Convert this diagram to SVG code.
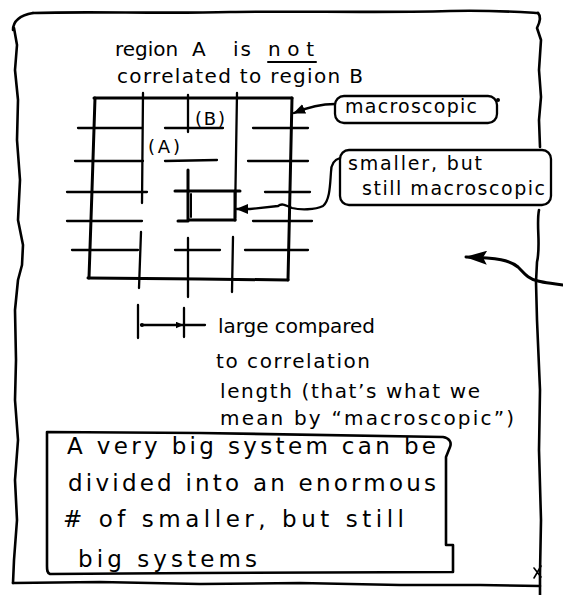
<svg xmlns="http://www.w3.org/2000/svg" width="563" height="595" viewBox="0 0 563 595">
  <style>
    .ink { fill: none; stroke: #000; stroke-linecap: round; stroke-linejoin: round; }
    .frame { stroke-width: 2.6; }
    .heavy { stroke-width: 3; }
    .thin { stroke-width: 2.3; }
    .hand { font-family: "DejaVu Sans", "Liberation Sans", sans-serif; fill: #000; }
    .t19 { font-size: 19px; }
    .t20 { font-size: 20px; }
    .t18 { font-size: 18px; }
    .t23 { font-size: 23px; }
  </style>
  <defs>
    <marker id="head" viewBox="0 0 12 10" refX="11" refY="5" markerWidth="12" markerHeight="10" orient="auto" markerUnits="userSpaceOnUse">
      <path d="M0,0 L12,5 L0,10 Z" fill="#000"/>
    </marker>
    <marker id="head-small" viewBox="0 0 8 7" refX="7.5" refY="3.5" markerWidth="8" markerHeight="7" orient="auto" markerUnits="userSpaceOnUse">
      <path d="M0,0 L8,3.5 L0,7 Z" fill="#000"/>
    </marker>
    <marker id="head-big" viewBox="0 0 22 14" refX="21" refY="7" markerWidth="22" markerHeight="14" orient="auto" markerUnits="userSpaceOnUse">
      <path d="M0,0 L22,7 L0,14 L4,7 Z" fill="#000"/>
    </marker>
  </defs>

  <rect width="563" height="595" fill="#fff"/>

  <!-- hand-drawn page frame -->
  <g id="frame" class="ink frame">
    <path d="M33,13 C 90,11 160,14 230,12 C 300,11 380,13 450,11 C 490,10 520,12 538,13"/>
    <path d="M33,13 C 22,15 13,20 13,30"/>
    <path d="M14,28 L17,45 L15,70 L18,100 L17,140 L20,180 L18,220 L23,245 L22,265 L18,280 L15,310 L16,360 L15,400 L18,440 L15,480 L17,520 L14,560 L13,583"/>
    <path d="M13,583 L100,582 L200,584 L300,583 L400,585 L480,585 L540,586"/>
    <path d="M538,13 C 541,16 540,22 537,28 L541,40 L539,70 L541,97 L539,120 L540,147"/>
    <path d="M539,210 C 536,225 541,245 537,262 L536,282 L537,320 L540,390 L539,450 L541,520 L540,573 L540,595"/>
    <path stroke-width="1.6" d="M534,568 L541,577 M541,566 L534,578"/>
  </g>

  <!-- heading -->
  <g id="heading" class="hand t20">
    <text y="56"><tspan x="115">region</tspan><tspan x="192">A</tspan><tspan x="233" textLength="18" lengthAdjust="spacing">is</tspan><tspan x="268" textLength="46" lengthAdjust="spacing">not</tspan></text>
    <path class="ink" stroke-width="2" d="M268,62 L316,62"/>
    <text x="117" y="83" textLength="246" lengthAdjust="spacing">correlated to region B</text>
  </g>

  <!-- large system divided into sub-regions -->
  <g id="grid">
    <g class="ink heavy">
      <path d="M94,98 L292,98"/>
      <path d="M292,98 L290,190 L288,280"/>
      <path d="M88,278 L200,279 L288,280"/>
      <path d="M95,98 L92,190 L89,278"/>
    </g>
    <g class="ink thin">
      <!-- column lines -->
      <path d="M143,93 L142,203"/>
      <path d="M141,232 L139,288"/>
      <path d="M188,95 L188,132"/>
      <path d="M188,238 L188,297"/>
      <path d="M237,93 L235,218"/>
      <path d="M233,237 L232,292"/>
      <!-- row lines -->
      <path d="M78,128 L142,128 M165,128 L223,128 M253,128 L308,128"/>
      <path d="M75,161 L143,161 M165,161 L217,160 M248,161 L308,161"/>
      <path d="M67,192 L147,192 M265,192 L310,192"/>
      <path d="M67,221 L142,221 M253,221 L312,221"/>
      <path d="M72,250 L138,250 M175,250 L220,250 M245,250 L308,250"/>
    </g>
    <!-- highlighted sub-system -->
    <g id="subsystem" class="ink heavy">
      <path d="M175,191 L240,191"/>
      <path d="M188,170 L188,220 L235,220"/>
      <path d="M178,221 L188,221"/>
      <path d="M191,194 L191,217" stroke-width="2"/>
      <path d="M235,191 L235,220"/>
    </g>
    <g class="hand t18">
      <text x="195" y="125" textLength="30" lengthAdjust="spacing">(B)</text>
      <text x="148" y="153" textLength="32" lengthAdjust="spacing">(A)</text>
    </g>
  </g>

  <!-- label: macroscopic -->
  <g id="label-macroscopic">
    <rect class="ink" stroke-width="2.3" x="335" y="96" width="162" height="27" rx="9"/>
    <circle cx="498" cy="100" r="2" fill="#000"/>
    <text class="hand t19" x="345" y="113" textLength="132" lengthAdjust="spacing">macroscopic</text>
  </g>

  <!-- label: smaller, but still macroscopic -->
  <g id="label-smaller">
    <rect class="ink" stroke-width="2.3" x="340" y="150" width="211" height="55" rx="9"/>
    <text class="hand t19" x="348" y="170" textLength="134" lengthAdjust="spacing">smaller, but</text>
    <text class="hand t19" x="362" y="195" textLength="183" lengthAdjust="spacing">still macroscopic</text>
  </g>

  <!-- correlation length note -->
  <g id="note-length" class="hand t20">
    <text x="218" y="333" textLength="157" lengthAdjust="spacing">large compared</text>
    <text x="216" y="368" textLength="154" lengthAdjust="spacing">to correlation</text>
    <text x="220" y="398" textLength="260" lengthAdjust="spacing">length (that’s what we</text>
    <text x="220" y="425" textLength="294" lengthAdjust="spacing">mean by “macroscopic”)</text>
  </g>

  <!-- summary box -->
  <g id="summary">
    <path class="ink" stroke-width="2.6" d="M47,432 L200,433 L443,437 C 449,438 452,442 450,447 L446,457 L446,545 L453,545 L453,572 L200,573 L50,574 C 47,573 47,570 47,566 Z"/>
    <g class="hand t23">
      <text x="67" y="454" textLength="369" lengthAdjust="spacing">A very big system can be</text>
      <text x="68" y="491" textLength="368" lengthAdjust="spacing">divided into an enormous</text>
      <text x="63" y="527" textLength="341" lengthAdjust="spacing"># of smaller, but still</text>
      <text x="78" y="567" textLength="179" lengthAdjust="spacing">big systems</text>
    </g>
  </g>

  <!-- connectors -->
  <g id="connectors" class="ink">
    <path stroke-width="2.3" d="M335,104 C 320,104 306,108 294,113" marker-end="url(#head)"/>
    <path stroke-width="2.3" d="M340,158 C 333,160 331,165 331,172 C 330,185 330,200 323,206 C 315,210 300,210 292,208 C 285,205 282,203 278,206 L250,209 L237,209" marker-end="url(#head)"/>
    <path stroke-width="3" d="M563,285 C 552,283 545,283 538,281 C 528,279 524,273 518,267 C 510,260 498,258 466,257" marker-end="url(#head-big)"/>
    <!-- dimension bar: correlation length scale -->
    <path stroke-width="2.3" d="M138,305 L138,338 M184,308 L184,337 M184,325 L205,325"/>
    <path stroke-width="2.3" d="M141,325 L183,325" marker-end="url(#head-small)"/>
    <circle cx="142" cy="325" r="2" fill="#000" stroke="none"/>
  </g>
</svg>
